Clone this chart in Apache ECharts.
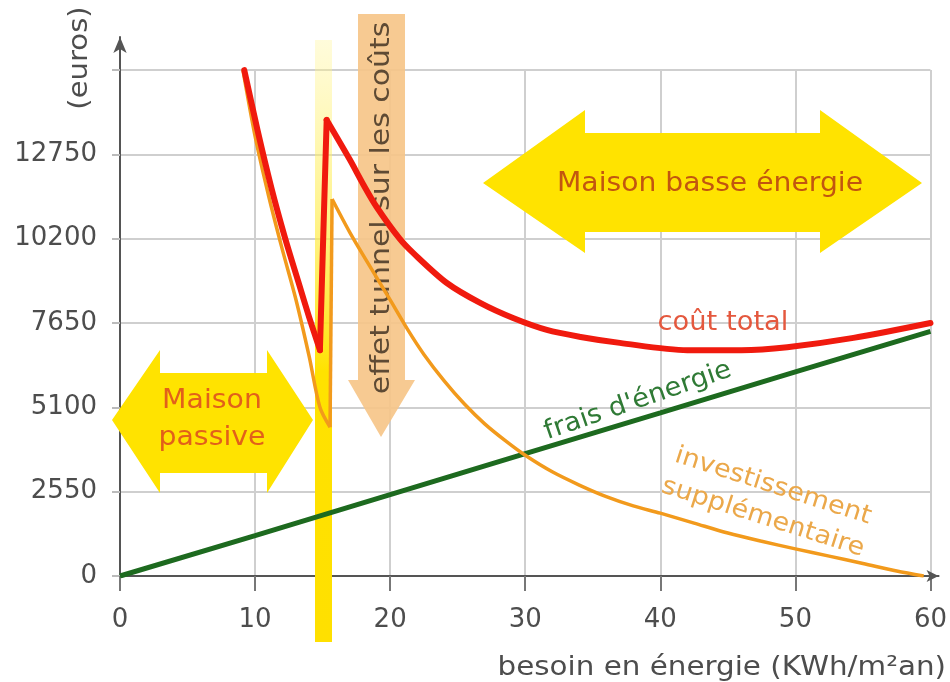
<!DOCTYPE html>
<html>
<head>
<meta charset="utf-8">
<script src="https://cdn.jsdelivr.net/npm/echarts@6/dist/echarts.min.js"></script>
<style>html,body{margin:0;padding:0;background:#fff}#c{width:950px;height:682px}</style>
</head>
<body>
<div id="c"></div>
<script>
// ---- data ----
const xTicks = [0, 10, 20, 30, 40, 50, 60];
const yTicks = [0, 2550, 5100, 7650, 10200, 12750];
const yGridValues = [0, 2550, 5100, 7650, 10200, 12750, 15300];

// frais d'énergie
const energyX = [0, 10, 20, 30, 40, 50, 60];
const energyY = [0, 1220, 2460, 3700, 4930, 6170, 7400];

// investissement supplémentaire (left branch, dip at 15.55, jump, right branch)
const investX = [9.1, 10, 11, 12, 13, 14, 14.8, 15.55, 15.7, 17, 18.3, 20, 21.3, 22.5, 24, 25.5, 27, 28.5, 30, 32, 34, 36, 38, 40, 42.5, 45, 47.5, 50, 52.5, 55, 57.5, 59.5];
const investY = [15300, 13300, 11500, 9900, 8400, 6650, 5100, 4500, 11400, 10400, 9500, 8350, 7450, 6700, 5900, 5200, 4600, 4100, 3650, 3150, 2750, 2400, 2120, 1900, 1600, 1300, 1050, 820, 600, 380, 150, 0];

// coût total
const totalX = [9.2, 10.2, 11.2, 12.2, 13.2, 14, 14.8, 15.3, 17, 18, 19, 20.7, 21.7, 24.2, 26.7, 29.1, 31.6, 34.1, 37, 42, 46, 49.4, 54.3, 60];
const totalY = [15300, 13450, 11750, 10250, 8900, 7830, 6830, 13790, 12600, 11850, 11160, 10200, 9770, 8860, 8250, 7800, 7440, 7230, 7050, 6830, 6830, 6920, 7200, 7650];

const zip = (a, b) => a.map((v, i) => [v, b[i]]);
const FONT = 'DejaVu Sans';

// break a curve at its sharp corners so that smoothing does not overshoot
function segments(xs, ys, cuts) {
  const pts = zip(xs, ys);
  const out = [];
  let start = 0;
  cuts.concat([pts.length - 1]).forEach(c => { out.push(pts.slice(start, c + 1)); start = c; });
  return out;
}
const investSegs = segments(investX, investY, [7, 8]);
const totalSegs = segments(totalX, totalY, [6, 7]);

const gridLines = [];
yGridValues.forEach(v => gridLines.push([{coord: [0, v]}, {coord: [60, v]}]));
xTicks.slice(1).forEach(v => gridLines.push([{coord: [v, 0]}, {coord: [v, 15300]}]));

const series = [
  {
    type: 'line', data: [], z: 0, silent: true,
    markLine: {
      z: 0, silent: true, symbol: ['none', 'none'], label: {show: false},
      lineStyle: {color: '#cfcfcf', width: 2, type: 'solid'},
      emphasis: {disabled: true},
      data: gridLines
    }
  },
  {
    name: "frais d'énergie", type: 'line', z: 3, data: zip(energyX, energyY),
    showSymbol: false, lineStyle: {color: '#1d6a1f', width: 5}
  }
];
investSegs.forEach(seg => series.push({
  name: 'investissement supplémentaire', type: 'line', z: 4, data: seg,
  showSymbol: false, smooth: 0.3, lineStyle: {color: '#f29a1c', width: 3.5, join: 'round'}
}));
totalSegs.forEach(seg => series.push({
  name: 'coût total', type: 'line', z: 5, data: seg,
  showSymbol: false, smooth: 0.3, lineStyle: {color: '#f01a0e', width: 6, cap: 'round', join: 'round'}
}));

const chart = echarts.init(document.getElementById('c'), null, {renderer: 'canvas'});
chart.setOption({
  backgroundColor: '#ffffff',
  animation: false,
  grid: {left: 120, right: 11, top: 37, bottom: 106},
  xAxis: {
    type: 'value', min: 0, max: 60.6,
    splitLine: {show: false},
    axisLine: {lineStyle: {color: '#555', width: 2}, symbol: ['none', 'arrow'], symbolSize: [9, 12]},
    axisTick: {show: true, length: 15, customValues: xTicks, lineStyle: {color: '#777', width: 2}},
    axisLabel: {customValues: xTicks, margin: 31, fontFamily: FONT, fontSize: 26, color: '#4d4d4d', formatter: v => String(v)}
  },
  yAxis: {
    type: 'value', min: 0, max: 16300,
    splitLine: {show: false},
    axisLine: {show: true, lineStyle: {color: '#555', width: 2}, symbol: ['none', 'arrow'], symbolSize: [10, 16]},
    axisTick: {show: true, length: 8, customValues: yGridValues, lineStyle: {color: '#bbb', width: 2}},
    axisLabel: {customValues: yTicks, margin: 23, fontFamily: FONT, fontSize: 26, color: '#4d4d4d', formatter: v => String(v)}
  },
  series: series,
  graphic: [
    // yellow band
    {type: 'rect', z: 1, shape: {x: 315, y: 40, width: 17, height: 602},
      style: {fill: new echarts.graphic.LinearGradient(0, 0, 0, 1, [
        {offset: 0, color: 'rgba(255,245,150,0.35)'},
        {offset: 0.35, color: 'rgba(255,235,60,0.7)'},
        {offset: 0.55, color: '#ffe200'},
        {offset: 1, color: '#ffe000'}])}},
    // peach arrow
    {type: 'polygon', z: 1, shape: {points: [[358, 14], [405, 14], [405, 380], [415, 380], [381, 437], [348, 380], [358, 380]]},
      style: {fill: 'rgba(246,196,134,0.9)'}},
    {type: 'text', z: 1, x: 382, y: 208, rotation: Math.PI / 2, scaleX: 1.15,
      style: {text: 'effet tunnel sur les coûts', fontFamily: FONT, fontSize: 26, fill: '#5e4a34', align: 'center', verticalAlign: 'middle'}},
    // Maison basse énergie arrow
    {type: 'polygon', z: 1, shape: {points: [[483, 183], [585, 110], [585, 133], [820, 133], [820, 110], [922, 183], [820, 253], [820, 232], [585, 232], [585, 253]]},
      style: {fill: '#ffe300'}},
    {type: 'text', z: 2, x: 710, y: 184, scaleX: 1.085,
      style: {text: 'Maison basse énergie', fontFamily: FONT, fontSize: 26, fill: '#c2560f', align: 'center', verticalAlign: 'middle'}},
    // Maison passive arrow
    {type: 'polygon', z: 1, shape: {points: [[112, 420], [160, 350], [160, 373], [267, 373], [267, 350], [313, 420], [267, 493], [267, 473], [160, 473], [160, 493]]},
      style: {fill: '#ffe300'}},
    {type: 'text', z: 2, x: 212, y: 420, scaleX: 1.09,
      style: {text: 'Maison\npassive', fontFamily: FONT, fontSize: 26, lineHeight: 37, fill: '#e2601a', align: 'center', verticalAlign: 'middle'}},
    // curve labels
    {type: 'text', z: 6, x: 723, y: 323, scaleX: 1.05,
      style: {text: 'coût total', fontFamily: FONT, fontSize: 26, fill: '#e4583e', align: 'center', verticalAlign: 'middle'}},
    {type: 'text', z: 6, x: 638, y: 401, rotation: 0.33, scaleX: 1.05,
      style: {text: "frais d'énergie", fontFamily: FONT, fontSize: 26, fill: '#2f7a35', align: 'center', verticalAlign: 'middle'}},
    {type: 'text', z: 6, x: 768, y: 502, rotation: -0.31, scaleX: 1.08,
      style: {text: 'investissement\nsupplémentaire', fontFamily: FONT, fontSize: 25, lineHeight: 33, fill: '#eba84a', align: 'center', verticalAlign: 'middle'}},
    // axis titles
    {type: 'text', z: 6, x: 80, y: 58, rotation: Math.PI / 2, scaleX: 1.12,
      style: {text: '(euros)', fontFamily: FONT, fontSize: 26, fill: '#4d4d4d', align: 'center', verticalAlign: 'middle'}},
    {type: 'text', z: 6, x: 946, y: 668, scaleX: 1.13,
      style: {text: 'besoin en énergie (KWh/m²an)', fontFamily: FONT, fontSize: 26, fill: '#4d4d4d', align: 'right', verticalAlign: 'middle'}}
  ]
});
</script>
</body>
</html>
